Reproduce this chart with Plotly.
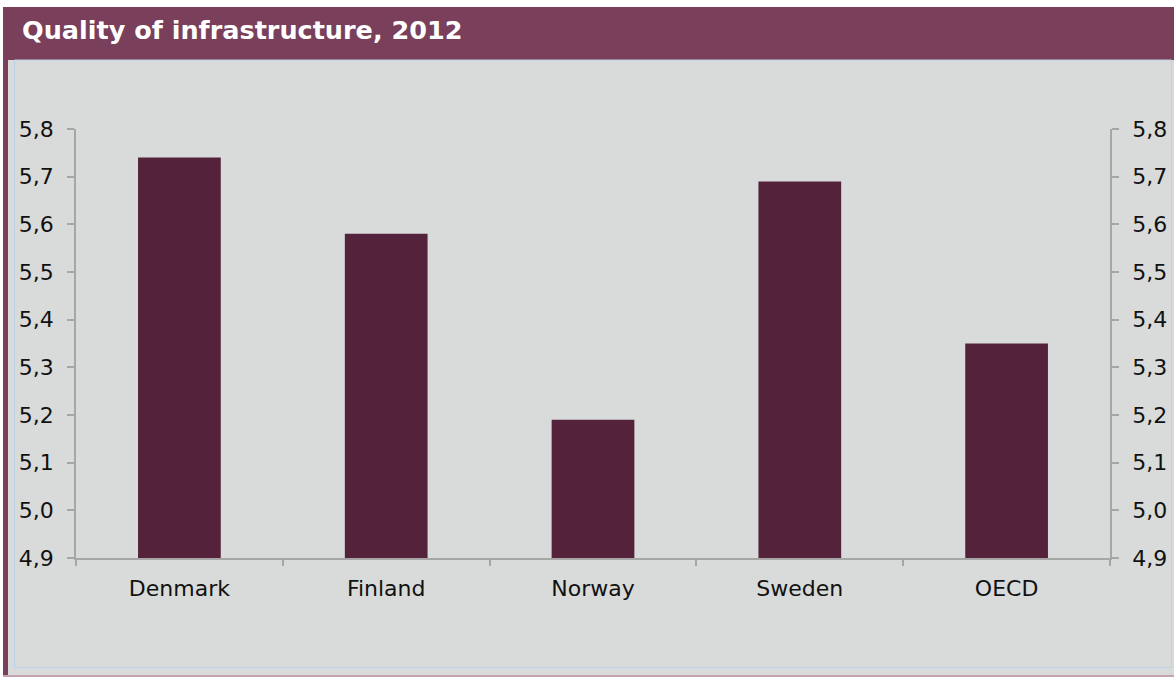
import plotly.graph_objects as go

# Data
countries = ["Denmark", "Finland", "Norway", "Sweden", "OECD"]
scores = [5.74, 5.58, 5.19, 5.69, 5.35]
y_range = [4.9, 5.8]
y_ticks = [4.9, 5.0, 5.1, 5.2, 5.3, 5.4, 5.5, 5.6, 5.7, 5.8]
title_text = "Quality of infrastructure, 2012"

# Canvas and plot-area geometry (pixels)
W, H = 1174, 677
PL, PR, PT, PB = 76, 1110, 129, 558

MAROON = "#7a3f5a"
BAR = "#54223a"
PANEL = "#d9dbda"
AXIS = "#a6a6a6"
FONT = "DejaVu Sans, Verdana, sans-serif"


def px(x):
    return (x - PL) / (PR - PL)


def py(y):
    return (PB - y) / (PB - PT)


fig = go.Figure()
fig.add_trace(go.Bar(
    x=countries, y=scores, width=0.4,
    marker=dict(color=BAR, line=dict(width=0)),
    hoverinfo="skip",
))
# invisible companion trace so the right-hand axis is rendered
fig.add_trace(go.Scatter(
    x=countries, y=scores, yaxis="y2", mode="markers",
    marker=dict(opacity=0), hoverinfo="skip", showlegend=False,
))

axis_common = dict(
    range=y_range, tickvals=y_ticks, tickformat=".1f",
    showgrid=False, zeroline=False, showline=True,
    linecolor=AXIS, linewidth=1.5, ticks="outside", ticklen=7,
    tickcolor=AXIS, tickwidth=1.5,
    tickfont=dict(family=FONT, size=22, color="#111111"),
    ticklabelstandoff=9, fixedrange=True, automargin=False,
)

shapes = [
    # grey panel
    dict(type="rect", xref="paper", yref="paper", layer="below",
         x0=px(8), x1=px(W), y0=py(60), y1=py(H),
         fillcolor=PANEL, line=dict(width=0)),
    # title band
    dict(type="rect", xref="paper", yref="paper", layer="below",
         x0=px(3), x1=px(W), y0=py(7), y1=py(60),
         fillcolor=MAROON, line=dict(width=0)),
    # left edge stripe
    dict(type="rect", xref="paper", yref="paper", layer="below",
         x0=px(3), x1=px(8), y0=py(60), y1=py(H),
         fillcolor=MAROON, line=dict(width=0)),
    # thin inner frame
    dict(type="rect", xref="paper", yref="paper", layer="below",
         x0=px(14.5), x1=px(1171.5), y0=py(60), y1=py(667.5),
         fillcolor="rgba(0,0,0,0)", line=dict(color="#b9d2e8", width=1)),
    # bottom edge
    dict(type="line", xref="paper", yref="paper", layer="below",
         x0=px(3), x1=px(W), y0=py(676), y1=py(676),
         line=dict(color="#c4a2b2", width=2)),
]

fig.update_layout(
    width=W, height=H,
    margin=dict(l=PL, r=W - PR, t=PT, b=H - PB, pad=0, autoexpand=False),
    paper_bgcolor="white",
    plot_bgcolor="rgba(0,0,0,0)",
    separators=",.",
    showlegend=False,
    bargap=0.6,
    shapes=shapes,
    xaxis=dict(
        showgrid=False, zeroline=False, showline=True,
        linecolor=AXIS, linewidth=1.5, ticks="outside", ticklen=6,
        tickcolor=AXIS, tickwidth=1.5, tickson="boundaries",
        tickfont=dict(family=FONT, size=22, color="#111111"),
        ticklabelstandoff=10, fixedrange=True, automargin=False,
    ),
    yaxis=dict(side="left", **axis_common),
    yaxis2=dict(side="right", overlaying="y", **axis_common),
    annotations=[dict(
        text="<b>" + title_text + "</b>",
        xref="paper", yref="paper", x=px(20), y=py(30),
        xanchor="left", yanchor="middle", showarrow=False,
        font=dict(family=FONT, size=25.5, color="white"),
    )],
)

fig.write_html("out.html", config=dict(displayModeBar=False))
